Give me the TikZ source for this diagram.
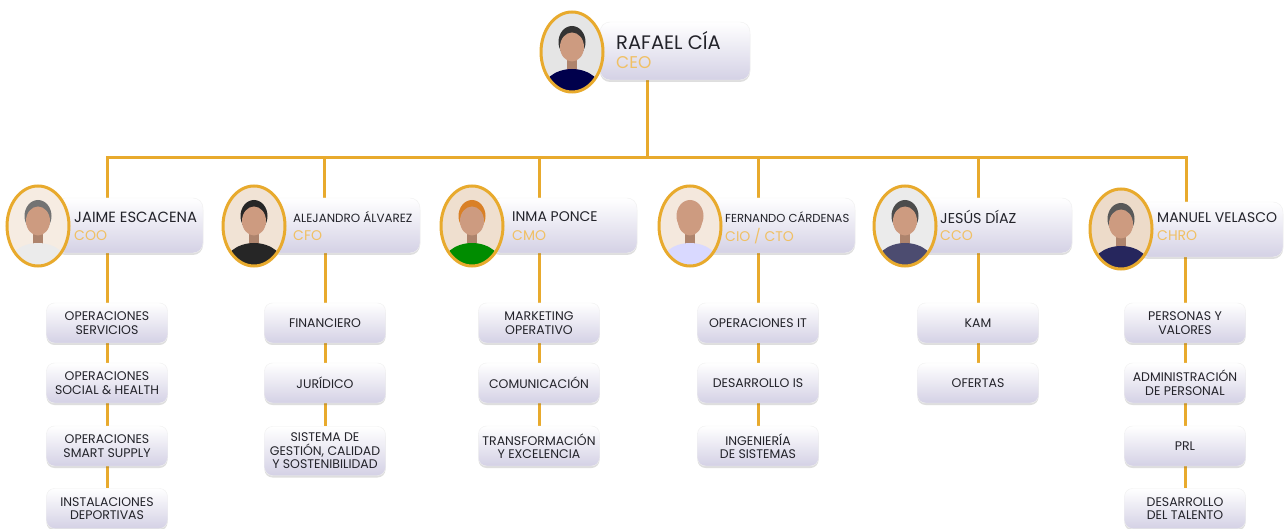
\documentclass[tikz,border=0pt]{standalone}
\usepackage{fontspec}
\setmainfont{Poppins}
\usetikzlibrary{shapes.geometric,shadows,backgrounds,calc}
\definecolor{gold}{RGB}{232,170,45}
\definecolor{titlecol}{RGB}{240,192,100}
\definecolor{txt}{RGB}{35,35,42}
\definecolor{lav}{RGB}{212,209,229}
\definecolor{skin}{RGB}{205,155,128}
\tikzset{
  conn/.style={draw=gold, line width=3pt},
  headbox/.style={rectangle, rounded corners=10pt, top color=white, bottom color=lav,
    draw=black!6, line width=0.4pt,
    drop shadow={shadow xshift=0pt, shadow yshift=-2pt, opacity=0.18, fill=black!70}},
  subbox/.style={headbox, rounded corners=8pt, minimum width=121pt, minimum height=40pt,
    inner sep=0pt, align=center, text=txt, font=\fontsize{12.5}{13.5}\selectfont},
  nametxt/.style={anchor=west, inner sep=0pt, text=txt},
  titletxt/.style={anchor=west, inner sep=0pt, text=titlecol},
  photo/.style n args={3}{ellipse, minimum width=62pt, minimum height=80pt, draw=gold,
    line width=3pt, inner sep=0pt,
    path picture={
      \fill[#1] (path picture bounding box.south west) rectangle (path picture bounding box.north east);
      \fill[#3] ([yshift=10pt]path picture bounding box.center) ellipse [x radius=13.5pt, y radius=16pt];
      \fill[skin!85!black] ([xshift=-5pt,yshift=-6pt]path picture bounding box.center) rectangle ([xshift=5pt,yshift=-22pt]path picture bounding box.center);
      \fill[#2] ([yshift=-2pt]path picture bounding box.south) ellipse [x radius=31pt, y radius=25pt];
      \fill[skin] ([yshift=5pt]path picture bounding box.center) ellipse [x radius=12pt, y radius=14.5pt];
    }},
}
\begin{document}
\begin{tikzpicture}[x=1pt, y=-1pt]
\useasboundingbox (0,0) rectangle (1288,529);

% ---------- CEO ----------
\node[headbox, minimum width=150pt, minimum height=58pt] (ceoB) at (675,51) {};
\node[photo={black!10}{blue!30!black}{black!80}] (ceoP) at (572,52) {};
\node[nametxt, font=\fontsize{19.5}{21}\selectfont] (ceoN) at (616,41) {RAFAEL CÍA};
\node[titletxt, font=\fontsize{17}{19}\selectfont] (ceoT) at (616,63) {CEO};

% ---------- level 2 ----------
\node[headbox, minimum width=148pt, minimum height=55pt] (jaiB) at (129,225.5) {};
\node[photo={brown!15}{white!92!black}{black!55}] (jaiP) at (38,226) {};
\node[nametxt, font=\fontsize{14.8}{16}\selectfont] (jaiN) at (74,217) {JAIME ESCACENA};
\node[titletxt, font=\fontsize{14}{16}\selectfont] (jaiT) at (74,236) {COO};

\node[headbox, minimum width=150pt, minimum height=55pt] (aleB) at (345,225.5) {};
\node[photo={brown!22}{black!85}{black!85}] (aleP) at (254,226) {};
\node[nametxt, font=\fontsize{11.9}{14}\selectfont] (aleN) at (293,217) {ALEJANDRO ÁLVAREZ};
\node[titletxt, font=\fontsize{14}{16}\selectfont] (aleT) at (293,236) {CFO};

\node[headbox, minimum width=147pt, minimum height=55pt] (inmB) at (563.5,225.5) {};
\node[photo={brown!25}{green!55!black}{brown!60!orange}] (inmP) at (472,226) {};
\node[nametxt, font=\fontsize{14}{16}\selectfont] (inmN) at (512,217) {INMA PONCE};
\node[titletxt, font=\fontsize{14}{16}\selectfont] (inmT) at (512,236) {CMO};

\node[headbox, minimum width=150pt, minimum height=55pt] (ferB) at (780,225.5) {};
\node[photo={brown!18}{blue!15!white}{skin}] (ferP) at (690,226) {};
\node[nametxt, font=\fontsize{11.6}{14}\selectfont] (ferN) at (725,217) {FERNANDO CÁRDENAS};
\node[titletxt, font=\fontsize{14}{16}\selectfont] (ferT) at (725,236) {CIO / CTO};

\node[headbox, minimum width=152pt, minimum height=55pt] (jesB) at (996,225.5) {};
\node[photo={black!8}{blue!20!black!70}{black!70}] (jesP) at (905,226) {};
\node[nametxt, font=\fontsize{14.3}{16}\selectfont] (jesN) at (940,217) {JESÚS DÍAZ};
\node[titletxt, font=\fontsize{14}{16}\selectfont] (jesT) at (940,236) {CCO};

\node[headbox, minimum width=145pt, minimum height=55pt] (manB) at (1210.5,229.5) {};
\node[photo={brown!28}{blue!25!black!85}{black!65}] (manP) at (1121,229) {};
\node[nametxt, font=\fontsize{14}{16}\selectfont] (manN) at (1157,218) {MANUEL VELASCO};
\node[titletxt, font=\fontsize{14}{16}\selectfont] (manT) at (1157,236) {CHRO};

% ---------- level 3 ----------
\node[subbox] (j1) at (107,323) {OPERACIONES\\SERVICIOS};
\node[subbox] (j2) at (107,383) {OPERACIONES\\SOCIAL \& HEALTH};
\node[subbox] (j3) at (107,446) {OPERACIONES\\SMART SUPPLY};
\node[subbox] (j4) at (107,508.5) {INSTALACIONES\\DEPORTIVAS};

\node[subbox] (a1) at (325,323) {FINANCIERO};
\node[subbox] (a2) at (325,383) {JURÍDICO};
\node[subbox, minimum height=49pt] (a3) at (325,451) {SISTEMA DE\\GESTIÓN, CALIDAD\\Y SOSTENIBILIDAD};

\node[subbox] (i1) at (539,323) {MARKETING\\OPERATIVO};
\node[subbox] (i2) at (539,383) {COMUNICACIÓN};
\node[subbox] (i3) at (539,446) {TRANSFORMACIÓN\\Y EXCELENCIA};

\node[subbox] (f1) at (758,323) {OPERACIONES IT};
\node[subbox] (f2) at (758,383) {DESARROLLO IS};
\node[subbox] (f3) at (758,446) {INGENIERÍA\\DE SISTEMAS};

\node[subbox] (s1) at (978,323) {KAM};
\node[subbox] (s2) at (978,383) {OFERTAS};

\node[subbox] (m1) at (1185,323) {PERSONAS Y\\VALORES};
\node[subbox] (m2) at (1185,383) {ADMINISTRACIÓN\\DE PERSONAL};
\node[subbox] (m3) at (1185,446) {PRL};
\node[subbox] (m4) at (1185,508.5) {DESARROLLO\\DEL TALENTO};

% ---------- bus coordinates ----------
\coordinate (ceoDrop) at (647,80);
\coordinate (busL) at (107,158);
\coordinate (busR) at (1186,158);
\coordinate (dJ) at (107,158);
\coordinate (dA) at (324,158);
\coordinate (dI) at (539,158);
\coordinate (dF) at (758,158);
\coordinate (dS) at (978,158);
\coordinate (dM) at (1186,158);

\begin{pgfonlayer}{background}
  \fill[white] (0,0) rectangle (1288,529);
  \draw[conn] (ceoDrop) -- (ceoDrop |- busL);
  \draw[conn, line cap=rect] (busL) -- (busR);
  \draw[conn] (dJ) -- (dJ |- jaiB.north);
  \draw[conn] (dA) -- (dA |- aleB.north);
  \draw[conn] (dI) -- (dI |- inmB.north);
  \draw[conn] (dF) -- (dF |- ferB.north);
  \draw[conn] (dS) -- (dS |- jesB.north);
  \draw[conn] (dM) -- (dM |- manB.north);
  \draw[conn] (j1.north |- jaiB.south) -- (j1.north);
  \draw[conn] (j1) -- (j2);
  \draw[conn] (j2) -- (j3);
  \draw[conn] (j3) -- (j4);
  \draw[conn] (a1.north |- aleB.south) -- (a1.north);
  \draw[conn] (a1) -- (a2);
  \draw[conn] (a2) -- (a3);
  \draw[conn] (i1.north |- inmB.south) -- (i1.north);
  \draw[conn] (i1) -- (i2);
  \draw[conn] (i2) -- (i3);
  \draw[conn] (f1.north |- ferB.south) -- (f1.north);
  \draw[conn] (f1) -- (f2);
  \draw[conn] (f2) -- (f3);
  \draw[conn] (s1.north |- jesB.south) -- (s1.north);
  \draw[conn] (s1) -- (s2);
  \draw[conn] (m1.north |- manB.south) -- (m1.north);
  \draw[conn] (m1) -- (m2);
  \draw[conn] (m2) -- (m3);
  \draw[conn] (m3) -- (m4);
\end{pgfonlayer}
\end{tikzpicture}
\end{document}
